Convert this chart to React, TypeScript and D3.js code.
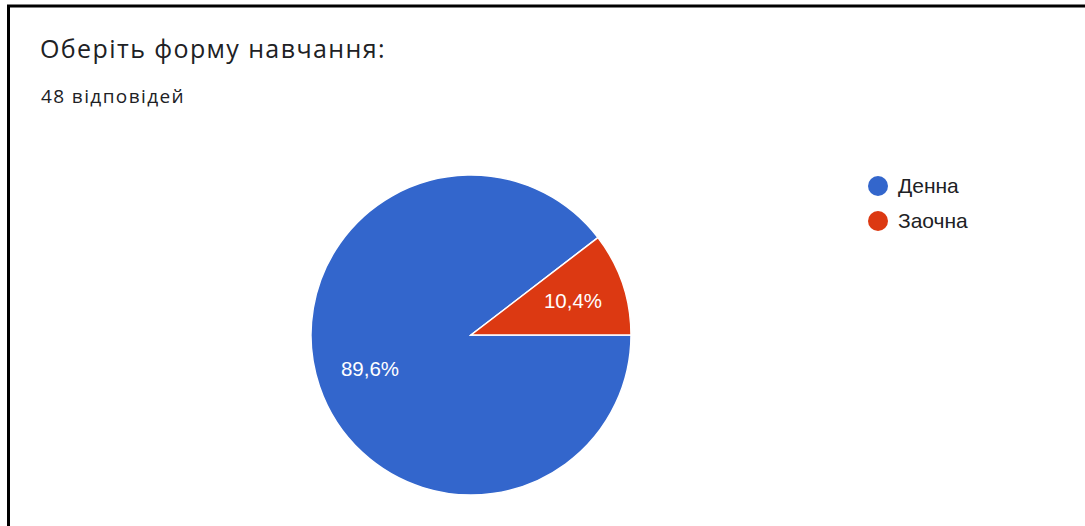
import React from "react";
import * as d3 from "d3";

const categories = ["Денна", "Заочна"];
const values = [43, 5];
const colors = ["#3366cc", "#dc3912"];
const title = "Оберіть форму навчання:";
const subtitle = "48 відповідей";

export default function App() {
  const W = 1085, H = 526;
  const cx = 471, cy = 335, r = 160;
  const total = d3.sum(values);
  const pie = d3.pie<number>().sort(null).startAngle(Math.PI / 2).endAngle(Math.PI / 2 + 2 * Math.PI);
  const arcs = pie(values);
  const arc = d3.arc<d3.PieArcDatum<number>>().innerRadius(0).outerRadius(r);
  const fmt = (v: number) => ((v / total) * 100).toFixed(1).replace(".", ",") + "%";
  return (
    <svg width={W} height={H} style={{ position: "absolute", left: 0, top: 0, background: "#fff" }}>
      <rect x={0} y={0} width={W} height={H} fill="#fff" />
      <line x1={8.5} y1={6} x2={8.5} y2={H} stroke="#000" strokeWidth={3} />
      <line x1={7} y1={6} x2={W} y2={6} stroke="#000" strokeWidth={3} />
      <text x={40} y={58} fontFamily="Open Sans" fontSize={25} letterSpacing={1.4} fill="#202124">{title}</text>
      <text x={41} y={103} fontFamily="Open Sans" fontSize={19} letterSpacing={1.4} fill="#202124">{subtitle}</text>
      <g transform={`translate(${cx},${cy})`}>
        {arcs.map((a, i) => (
          <path key={i} d={arc(a) || ""} fill={colors[i]} stroke="#fff" strokeWidth={1.5} />
        ))}
        {arcs.map((a, i) => {
          const lr = i === 0 ? r * 0.66 : r * 0.68;
          const mid = (a.startAngle + a.endAngle) / 2;
          const x = Math.sin(mid) * lr - (i === 0 ? 1 : 1);
          const y = -Math.cos(mid) * lr;
          return (
            <text key={"t" + i} x={x} y={y} textAnchor="middle" dominantBaseline="central" fontFamily="Liberation Sans" fontSize={20.5} fill="#fff">
              {fmt(values[i])}
            </text>
          );
        })}
      </g>
      {categories.map((c, i) => (
        <g key={c} transform={`translate(878,${186 + i * 35})`}>
          <circle r={10} fill={colors[i]} />
          <text x={20} y={7} fontFamily="Liberation Sans" fontSize={21} fill="#202124">{c}</text>
        </g>
      ))}
    </svg>
  );
}
